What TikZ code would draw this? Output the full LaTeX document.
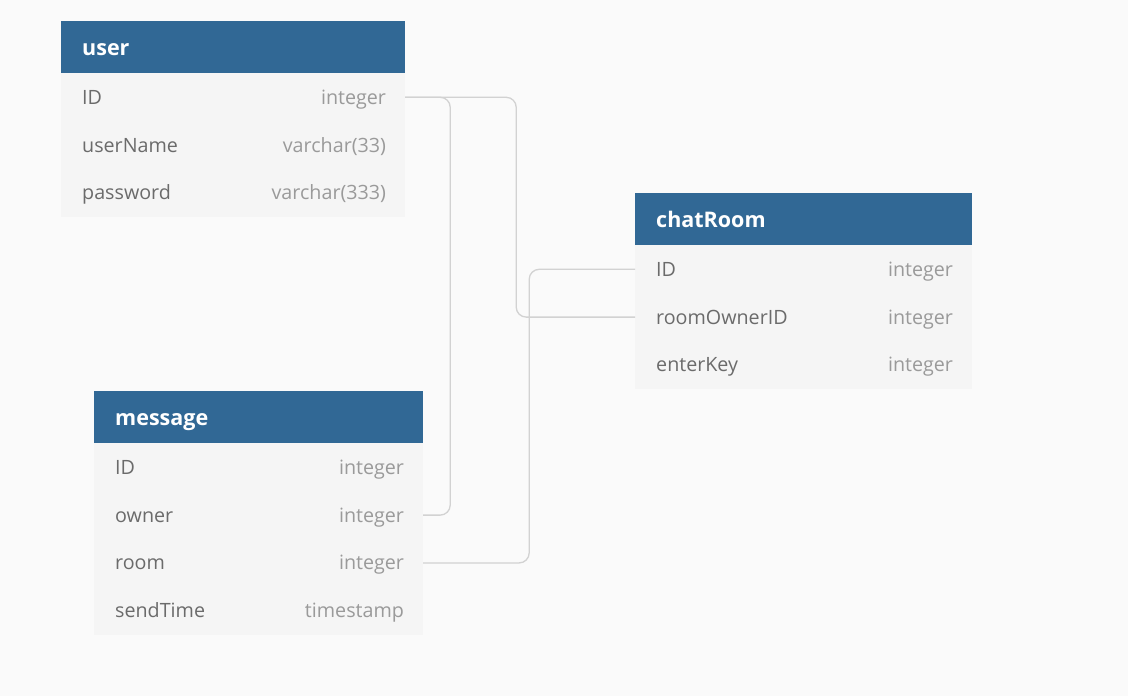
\documentclass[tikz,border=0pt]{standalone}
\usepackage{fontspec}
\setmainfont{Open Sans}
\usetikzlibrary{positioning}
\definecolor{headblue}{HTML}{316895}
\definecolor{rowgray}{HTML}{F5F5F5}
\definecolor{pagebg}{HTML}{FAFAFA}
\definecolor{fieldgray}{HTML}{6B6B6B}
\definecolor{typegray}{HTML}{9A9A9A}
\definecolor{linegray}{HTML}{D2D2D2}
\begin{document}
\begin{tikzpicture}[x=1pt, y=-1pt, node distance=0pt,
    tablehead/.style={rectangle, fill=headblue, text=white, font=\bfseries\fontsize{21.5}{25}\selectfont, anchor=north west, inner xsep=21pt, inner ysep=0pt, minimum height=52pt, text height=16.6pt, text depth=0pt, align=left},
    fieldrow/.style={rectangle, fill=rowgray, draw=rowgray, line width=0.8pt, text=fieldgray, font=\fontsize{19.7}{23}\selectfont, inner xsep=20.6pt, inner ysep=0pt, minimum height=47pt, text height=13.8pt, text depth=0pt, align=left},
    fieldtype/.style={text=typegray, font=\fontsize{19.7}{23}\selectfont, inner sep=0pt, text height=13.8pt, text depth=0pt},
    link/.style={draw=linegray, line width=1.3pt, rounded corners=10pt}]

  \fill[pagebg] (0,0) rectangle (1128,696);
  \useasboundingbox (0,0) rectangle (1128,696);

  % user
  \node[tablehead, text width=302pt] (user) at (61,21) {user};
  \node[fieldrow, text width=302pt, below=of user] (u1) {ID};
  \node[fieldrow, text width=302pt, below=of u1] (u2) {userName};
  \node[fieldrow, text width=302pt, below=of u2] (u3) {password};
  \node[fieldtype, left=19pt of u1.east] (u1t) {integer};
  \node[fieldtype, left=19pt of u2.east] (u2t) {varchar(33)};
  \node[fieldtype, left=19pt of u3.east] (u3t) {varchar(333)};

  % chatRoom
  \node[tablehead, text width=295pt] (room) at (635,193) {chatRoom};
  \node[fieldrow, text width=295pt, below=of room] (c1) {ID};
  \node[fieldrow, text width=295pt, below=of c1] (c2) {roomOwnerID};
  \node[fieldrow, text width=295pt, below=of c2] (c3) {enterKey};
  \node[fieldtype, left=19pt of c1.east] (c1t) {integer};
  \node[fieldtype, left=19pt of c2.east] (c2t) {integer};
  \node[fieldtype, left=19pt of c3.east] (c3t) {integer};

  % message
  \node[tablehead, text width=287pt] (msg) at (94,391) {message};
  \node[fieldrow, text width=287pt, below=of msg] (m1) {ID};
  \node[fieldrow, text width=287pt, below=of m1] (m2) {owner};
  \node[fieldrow, text width=287pt, below=of m2] (m3) {room};
  \node[fieldrow, text width=287pt, below=of m3] (m4) {sendTime};
  \node[fieldtype, left=19pt of m1.east] (m1t) {integer};
  \node[fieldtype, left=19pt of m2.east] (m2t) {integer};
  \node[fieldtype, left=19pt of m3.east] (m3t) {integer};
  \node[fieldtype, left=19pt of m4.east] (m4t) {timestamp};

  % relations
  \draw[link] (u1.east) -- ++(45,0) |- (m2.east);
  \draw[link] (u1.east) -- ++(111,0) |- (c2.west);
  \draw[link] (c1.west) -- ++(-106,0) |- (m3.east);

\end{tikzpicture}
\end{document}
